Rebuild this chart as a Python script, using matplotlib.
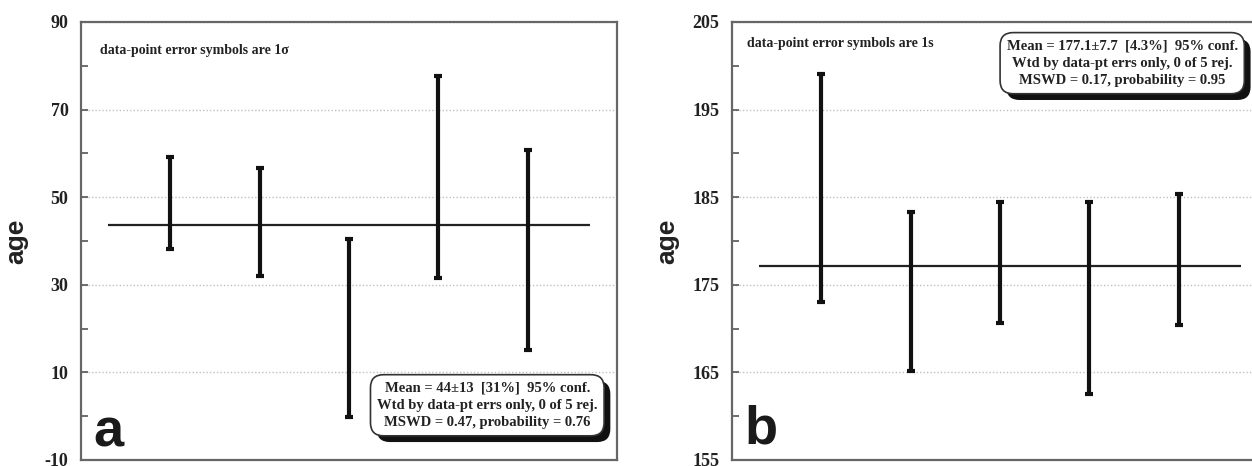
import matplotlib
matplotlib.use("Agg")
import matplotlib.pyplot as plt
from matplotlib.ticker import FixedLocator
import matplotlib.patheffects as pe

plt.rcParams["axes.unicode_minus"] = False

# ---- data ----
positions = [1, 2, 3, 4, 5]

a_ages = [48.6, 44.25, 20.2, 54.6, 37.9]
a_errs = [10.5, 12.35, 20.3, 23.0, 22.8]
a_mean = 43.6
a_ylim = (-10, 90)
a_major = [-10, 10, 30, 50, 70, 90]
a_minor = [0, 20, 40, 60, 80]
a_note = "data-point error symbols are 1σ"
a_box = "Mean = 44±13  [31%]  95% conf.\nWtd by data-pt errs only, 0 of 5 rej.\nMSWD = 0.47, probability = 0.76"

b_ages = [186.05, 174.25, 177.55, 173.5, 177.9]
b_errs = [13.05, 9.05, 6.95, 11.0, 7.5]
b_mean = 177.2
b_ylim = (155, 205)
b_major = [155, 165, 175, 185, 195, 205]
b_minor = [160, 170, 180, 190, 200]
b_note = "data-point error symbols are 1s"
b_box = "Mean = 177.1±7.7  [4.3%]  95% conf.\nWtd by data-pt errs only, 0 of 5 rej.\nMSWD = 0.17, probability = 0.95"

mean_span = (0.3, 5.7)

W, H = 1252, 466
fig = plt.figure(figsize=(W / 100, H / 100), dpi=100)
fig.patch.set_facecolor("white")

serif = "Liberation Serif"
sans = "Liberation Sans"


def make_panel(rect, ages, errs, mean, ylim, major, minor, note, note_xy, box, box_xy,
               letter, letter_xy):
    ax = fig.add_axes(rect)
    ax.set_xlim(0, 6)
    ax.set_ylim(*ylim)
    ax.yaxis.set_major_locator(FixedLocator(major))
    ax.yaxis.set_minor_locator(FixedLocator(minor))
    ax.set_xticks([])
    ax.tick_params(axis="y", which="both", direction="in", length=5, width=1.2,
                   color="#555555", pad=9)
    for lab in ax.get_yticklabels():
        lab.set_fontfamily(serif)
        lab.set_fontweight("bold")
        lab.set_fontsize(13)
        lab.set_color("#222222")
    ax.grid(axis="y", which="major", linestyle=(0, (1, 1.5)), color="#c0c0c0", lw=1.0)
    ax.set_axisbelow(True)
    for s in ax.spines.values():
        s.set_color("#666666")
        s.set_linewidth(1.6)

    ax.hlines(mean, mean_span[0], mean_span[1], color="#222222", lw=1.6, zorder=3)
    ax.errorbar(positions, ages, yerr=errs, fmt="none", ecolor="#111111",
                elinewidth=3.0, capsize=3, capthick=3.0, zorder=4)

    ax.set_ylabel("age", fontfamily=sans, fontweight="bold", fontsize=19, color="#222222")
    ax.yaxis.set_label_coords(-0.099, 0.50)

    ax.text(note_xy[0], note_xy[1], note, transform=ax.transAxes, ha="left", va="center",
            fontfamily=serif, fontweight="bold", fontsize=10, color="#222222")

    t = ax.text(box_xy[0], box_xy[1], box, transform=ax.transAxes, ha="center", va="center",
                multialignment="center", fontfamily=serif, fontweight="bold", fontsize=10.5,
                linespacing=1.45, color="#222222",
                bbox=dict(boxstyle="round,pad=0.45,rounding_size=0.9", linewidth=1.2,
                          facecolor="white", edgecolor="#333333"), zorder=6)
    t.get_bbox_patch().set_path_effects([
        pe.SimplePatchShadow(offset=(4.5, -4.5), shadow_rgbFace="#111111", alpha=1.0),
        pe.Normal()])

    ax.text(letter_xy[0], letter_xy[1], letter, transform=ax.transAxes, ha="left",
            va="baseline", fontfamily=sans, fontweight="bold", fontsize=39, color="#1a1a1a")
    return ax


bot = (H - 460) / H
hgt = (460 - 22) / H
wid = 536 / W

make_panel([81 / W, bot, wid, hgt], a_ages, a_errs, a_mean, a_ylim, a_major, a_minor,
           a_note, (0.035, 0.936), a_box, (0.758, 0.125), "a", (0.024, 0.03))
make_panel([732 / W, bot, wid, hgt], b_ages, b_errs, b_mean, b_ylim, b_major, b_minor,
           b_note, (0.028, 0.952), b_box, (0.728, 0.906), "b", (0.024, 0.038))

fig.savefig("out.png", dpi=100, facecolor="white")
